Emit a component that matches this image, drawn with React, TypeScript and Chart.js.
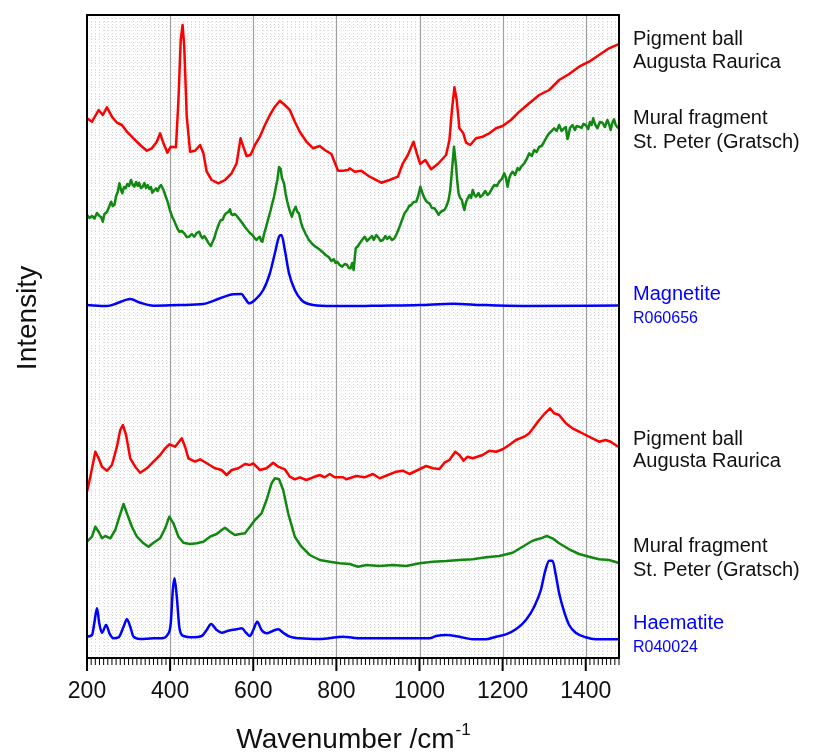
import React, { useEffect, useRef } from 'react';
import { Chart, registerables } from 'chart.js';

Chart.register(...registerables);

const FONT = '"Liberation Sans", Arial, sans-serif';

// x axis
const xMin = 200;
const xMax = 1480;
const xTickValues = [200, 400, 600, 800, 1000, 1200, 1400];
const xTitle = 'Wavenumber /cm';
const xTitleSup = '-1';
const yTitle = 'Intensity';

// Spectra: [wavenumber (cm-1), intensity (arbitrary, stacked offsets)]
const pigmentBallUpper: [number, number][] = [
  [200, 539.7], [212, 536.3], [228, 548], [238, 543], [248, 550.7], [260, 541.3], [272, 535.3], [284, 533],
  [296, 526.3], [312, 519.7], [328, 513], [344, 507.3], [356, 509.7], [368, 516.3], [376, 524.7], [384, 514.7],
  [393.5, 505.3], [401.5, 511.3], [414, 510.7], [420, 558], [425.5, 618], [430, 633], [434, 611.3], [440, 541.3],
  [448, 506.3], [460, 507.3], [472, 513], [480, 504.7], [488, 486.3], [500, 478], [516, 474.7], [532, 478],
  [548, 484.7], [560, 494.7], [569.5, 519.7], [577.5, 509.7], [584, 502], [593.5, 503], [604, 513], [616, 521.3],
  [628, 533], [640, 543], [652, 551.3], [664, 557.3], [676, 553], [688, 548], [700, 536.3], [712, 526.3],
  [728, 516.3], [744, 509.7], [760, 512], [772, 508], [788, 504], [804, 487.3], [816, 487.3], [828, 488],
  [832, 489.7], [844, 486.3], [860, 487.3], [880, 481.3], [908, 475.3], [928, 478], [948, 481.3], [960, 494.7],
  [972, 503], [985.5, 516.3], [993.5, 504.7], [1001.5, 494], [1014, 498], [1028, 488.7], [1044, 494], [1064, 503],
  [1072, 518], [1078, 548], [1084, 570.7], [1089.5, 558], [1096, 529.7], [1105.5, 524.7], [1112, 515.3], [1122, 513],
  [1136, 519.7], [1152, 521.3], [1168, 524.7], [1184, 529.7], [1200, 532], [1220, 538], [1240, 546.3], [1264, 554.7],
  [1288, 563], [1312, 568], [1336, 578], [1360, 584], [1384, 591.3], [1408, 596.3], [1432, 603], [1456, 609.7],
  [1478, 613.7],
];

const muralFragmentUpper: [number, number][] = [
  [200, 443], [206, 440], [212, 442], [218, 439.5], [224, 445], [230, 442], [234, 441], [238, 436.3],
  [242, 444], [248, 446], [254, 452], [258, 456.3], [262, 452], [266, 453], [270, 462], [274, 466],
  [278, 474.7], [282, 468], [285, 464.7], [289, 471], [293, 469.7], [297, 474], [301, 472], [306, 478],
  [310, 473], [314, 471.3], [318, 476], [322, 472], [325, 475.3], [330, 470], [334, 471.3], [338, 475],
  [342, 470], [346, 473], [350, 469], [354, 471], [357, 465.3], [362, 468], [366, 469.7], [370, 467],
  [374, 471], [378, 473], [384, 468], [389, 462], [394, 456.3], [400, 447], [405, 441.3], [410, 437],
  [414, 433], [418, 429], [422, 426.3], [428, 427], [434, 424.7], [440, 421], [446, 421.3], [452, 424],
  [458, 421.3], [464, 425], [470, 426.3], [474, 422], [478, 419.7], [482, 422], [486, 419.7], [492, 415],
  [498, 412], [502, 416], [506, 419.7], [512, 428], [518, 434.7], [522, 438], [526, 438], [530, 442],
  [534, 444.7], [540, 446], [544, 448.7], [547, 444], [550, 443], [556, 444], [562, 441.3], [568, 438],
  [574, 434.7], [580, 431], [586, 428], [592, 425], [598, 423], [603, 420], [608, 418], [612, 420],
  [616, 421.3], [619, 417], [622, 416.3], [626, 424], [630, 429.7], [636, 439], [642, 448], [646, 455],
  [650, 461.3], [654, 470], [658, 478], [662, 491], [666, 489], [669, 480], [674, 474.7], [678, 464],
  [682, 456.3], [687, 448], [693, 441.3], [697, 447], [702, 451.3], [706, 446], [710, 444.7], [714, 437],
  [718, 431.3], [726, 424], [734, 418], [742, 414], [750, 411.3], [758, 409], [766, 406.3], [774, 403],
  [782, 400.7], [788, 397], [794, 398.7], [798, 395], [802, 396.3], [808, 393], [814, 391.3], [820, 394],
  [826, 393], [830, 390], [834, 389.7], [838, 395], [841.5, 388], [846.5, 409.7], [852, 412], [856, 414.7],
  [862, 418], [868, 421.3], [874, 417], [880, 419.7], [886, 422], [890, 418], [896, 423], [902, 420],
  [906, 417], [912, 418], [918, 422], [922, 419], [928, 421.3], [934, 418], [940, 419.7], [946, 425],
  [952, 431.3], [958, 438], [964, 444.7], [970, 448], [975, 452], [980, 453], [986, 456], [992, 456.3],
  [997, 462], [1002, 471.3], [1007, 465], [1012, 459.7], [1018, 456], [1024, 454.7], [1030, 450], [1036, 449.7],
  [1042, 446], [1046, 443], [1048, 444.7], [1054, 447], [1060, 448], [1064, 451], [1070, 458], [1074, 468],
  [1077.5, 484.7], [1083, 511.3], [1088, 491.3], [1091, 476], [1094, 464.7], [1098, 460], [1102, 458], [1105, 452],
  [1108, 448], [1112, 456], [1116, 459.7], [1120, 463], [1124, 460], [1128, 468], [1132, 463], [1136, 461.3],
  [1142, 465], [1146, 461], [1152, 463], [1158, 467], [1164, 463], [1168, 464.7], [1174, 469], [1180, 473],
  [1186, 472], [1192, 476.3], [1198, 479], [1204, 484.7], [1208, 480], [1212, 471.3], [1216, 480], [1220, 484],
  [1224, 486.3], [1230, 483], [1236, 490], [1240, 488], [1246, 492], [1252, 494.7], [1258, 499], [1264, 504.7],
  [1270, 502], [1276, 508], [1282, 506], [1288, 511.3], [1294, 512], [1300, 516.3], [1306, 521], [1312, 524.7],
  [1318, 527], [1324, 529.7], [1330, 527], [1336, 533], [1342, 527], [1348, 529.7], [1352, 531], [1356, 519],
  [1358, 521.3], [1362, 530], [1368, 533], [1374, 528], [1378, 532], [1384, 531.3], [1390, 530], [1394, 534],
  [1400, 533], [1406, 529], [1410, 536], [1414, 533], [1418, 539.7], [1422, 534], [1428, 529.7], [1434, 536],
  [1440, 535.3], [1446, 531], [1452, 538], [1456, 534], [1460, 528], [1464, 535], [1468, 538.7], [1472, 533],
  [1478, 529.7],
];

const magnetiteRef: [number, number][] = [
  [200, 353], [248, 352], [272, 354.7], [304, 359], [328, 355.3], [360, 352.3], [424, 353], [480, 354],
  [520, 359.7], [552, 363.7], [572, 364], [580, 359.7], [590, 354.7], [604, 358], [624, 368], [640, 384.7],
  [652, 404.7], [662, 421.3], [668, 423], [676, 408], [686, 384.7], [700, 368], [716, 358], [744, 353],
  [792, 352], [856, 352], [900, 352.3], [1000, 353], [1080, 354.3], [1150, 353], [1250, 352], [1478, 352.5],
];

const pigmentBallLower: [number, number][] = [
  [200, 166.3], [208, 181.3], [220, 206.3], [228, 199.7], [236, 191.3], [248, 187.3], [260, 193], [272, 211.3],
  [280, 228], [286.3, 233], [294, 223], [304, 199.7], [316, 191.3], [328, 185.3], [344, 189.7], [360, 196.3],
  [376, 203], [388, 209.7], [398, 213.7], [412, 211.3], [428, 219.7], [436, 211.3], [444, 199.7], [460, 196.3],
  [472, 198.7], [488, 194.7], [508, 189.7], [524, 188], [536, 183], [548, 188], [564, 189.7], [580, 194],
  [592, 193], [600, 194.7], [616, 188], [632, 189.7], [648, 195.3], [660, 191.3], [676, 188.7], [688, 181.3],
  [700, 178.7], [712, 180.7], [728, 178], [744, 180.7], [760, 183], [772, 180.7], [784, 184], [796, 180.7],
  [816, 180.7], [824, 178.7], [848, 182], [868, 180.7], [888, 184], [904, 179.7], [924, 183], [944, 186.3],
  [960, 187.3], [976, 184], [996, 188], [1016, 192], [1032, 189.7], [1048, 189], [1060, 195.3], [1072, 198],
  [1086, 206.3], [1096, 203], [1106, 197.3], [1116, 201.3], [1128, 199.7], [1152, 203], [1168, 207.3], [1184, 206.3],
  [1200, 208.7], [1216, 213], [1232, 218], [1252, 221.3], [1264, 224.7], [1276, 231.3], [1288, 238], [1302, 244.7],
  [1314, 249.7], [1324, 244.7], [1336, 243], [1352, 234.7], [1368, 229.7], [1384, 226.3], [1400, 223], [1416, 219.7],
  [1432, 216.3], [1448, 218], [1460, 216.3], [1478, 211.3],
];

const muralFragmentLower: [number, number][] = [
  [200, 116.3], [212, 121.3], [220, 131.3], [228, 126.3], [236, 119.7], [244, 122], [256, 119.7], [268, 128],
  [278, 141.3], [288, 154], [296, 144.7], [308, 131.3], [320, 121.3], [336, 114.7], [348, 111.3], [360, 115.3],
  [376, 119.7], [388, 129.7], [398, 141.3], [408, 134.7], [420, 121.3], [432, 115.3], [448, 114], [464, 114.7],
  [480, 116.3], [496, 121.3], [512, 124], [524, 128], [532, 130.3], [544, 126.3], [556, 123], [568, 124],
  [580, 124.7], [592, 131.3], [604, 138], [620, 144.7], [632, 158], [644, 174.7], [652, 179.7], [662, 178.7],
  [672, 168], [684, 144.7], [700, 121.3], [716, 111.3], [736, 103], [760, 98], [784, 96.3], [808, 94.7],
  [832, 94], [852, 91.3], [872, 93], [904, 92], [936, 93], [968, 92], [1000, 94.7], [1032, 96.3],
  [1064, 97], [1096, 98], [1128, 98.7], [1160, 100.7], [1192, 102], [1224, 105.3], [1248, 111.3], [1272, 117.3],
  [1292, 119.7], [1306, 122], [1320, 119.7], [1336, 114.7], [1360, 108.7], [1384, 104], [1408, 101.3], [1432, 98.7],
  [1456, 98], [1478, 95.3],
];

const haematiteRef: [number, number][] = [
  [200, 21.3], [212, 23], [217.5, 34.7], [224, 49.7], [229.5, 34.7], [236, 25.3], [246, 33], [254, 24.7],
  [264, 19.7], [276, 20.7], [288, 31.3], [296, 38.7], [304, 31.3], [312, 21.3], [328, 19], [360, 19.7],
  [380, 19.7], [393.5, 23], [401.5, 34.7], [406.5, 68], [410.5, 79.7], [416, 61.3], [422.5, 29.7], [432, 22],
  [456, 20.7], [476, 22], [488, 28], [498.5, 34], [512, 28], [524, 25.3], [540, 27.3], [560, 28.7],
  [572, 29.7], [584, 24.7], [592, 22], [600, 28], [609.5, 36.3], [620, 28], [632, 24.7], [648, 27.3],
  [660, 28.7], [672, 25.3], [688, 21.3], [712, 19.7], [760, 19], [800, 20.7], [816, 21.3], [840, 20.3],
  [856, 19.7], [928, 19.7], [1000, 19.7], [1024, 19.7], [1040, 22], [1064, 23], [1096, 21.3], [1128, 18.7],
  [1160, 18.7], [1184, 21.3], [1208, 23.7], [1232, 28.7], [1256, 38], [1276, 51.3], [1292, 68], [1302, 86.3],
  [1312, 97.3], [1320, 97.3], [1328, 83], [1336, 64.7], [1348, 46.3], [1360, 33], [1376, 25.3], [1400, 20.7],
  [1424, 18.7], [1478, 18.7],
];

const seriesNames = [
  'Pigment ball Augusta Raurica (upper)',
  'Mural fragment St. Peter (Gratsch) (upper)',
  'Magnetite R060656',
  'Pigment ball Augusta Raurica (lower)',
  'Mural fragment St. Peter (Gratsch) (lower)',
  'Haematite R040024',
];
const seriesData = [pigmentBallUpper, muralFragmentUpper, magnetiteRef, pigmentBallLower, muralFragmentLower, haematiteRef];
const seriesColors = ['#ff0000', '#118811', '#0000ff', '#ff0000', '#118811', '#0000ff'];
const seriesSmooth = [false, false, true, false, false, true];

// Right-hand annotations (y given in intensity units of the chart)
const sideLabels = [
  { text: 'Pigment ball', y: 613, color: '#111111', size: 20 },
  { text: 'Augusta Raurica', y: 590, color: '#111111', size: 20 },
  { text: 'Mural fragment', y: 534, color: '#111111', size: 20 },
  { text: 'St. Peter (Gratsch)', y: 510, color: '#111111', size: 20 },
  { text: 'Magnetite', y: 358, color: '#0000ff', size: 20 },
  { text: 'R060656', y: 335, color: '#0000ff', size: 16 },
  { text: 'Pigment ball', y: 213, color: '#111111', size: 20 },
  { text: 'Augusta Raurica', y: 191, color: '#111111', size: 20 },
  { text: 'Mural fragment', y: 106, color: '#111111', size: 20 },
  { text: 'St. Peter (Gratsch)', y: 82, color: '#111111', size: 20 },
  { text: 'Haematite', y: 29, color: '#0000ff', size: 20 },
  { text: 'R040024', y: 6, color: '#0000ff', size: 16 },
];

const decorPlugin = {
  id: 'decor',
  beforeDatasetsDraw(chart: any) {
    const { ctx, chartArea: a, scales } = chart;
    const x = scales.x;
    const y = scales.y;
    ctx.save();
    // fine dotted background grid
    ctx.lineWidth = 1;
    ctx.strokeStyle = '#d6d6d6';
    ctx.setLineDash([1, 2]);
    for (let w = xMin + 10; w < xMax; w += 10) {
      const px = Math.round(x.getPixelForValue(w)) + 0.5;
      ctx.beginPath();
      ctx.moveTo(px, a.top);
      ctx.lineTo(px, a.bottom);
      ctx.stroke();
    }
    ctx.strokeStyle = '#e2e2e2';
    ctx.setLineDash([1, 3]);
    for (let v = 4; v < y.max; v += 4) {
      const py = Math.round(y.getPixelForValue(v)) + 0.5;
      ctx.beginPath();
      ctx.moveTo(a.left, py);
      ctx.lineTo(a.right, py);
      ctx.stroke();
    }
    // major grid
    ctx.setLineDash([]);
    ctx.strokeStyle = '#a0a0a0';
    ctx.lineWidth = 1.2;
    for (const w of xTickValues) {
      if (w === xMin) continue;
      const px = Math.round(x.getPixelForValue(w)) + 0.5;
      ctx.beginPath();
      ctx.moveTo(px, a.top);
      ctx.lineTo(px, a.bottom);
      ctx.stroke();
    }
    ctx.restore();
  },
  afterDraw(chart: any) {
    const { ctx, chartArea: a, scales } = chart;
    const x = scales.x;
    const y = scales.y;
    ctx.save();
    // frame
    ctx.strokeStyle = '#000000';
    ctx.lineWidth = 2;
    ctx.strokeRect(a.left, a.top, a.right - a.left, a.bottom - a.top);
    // tick marks
    for (let w = xMin; w <= xMax; w += 10) {
      const px = x.getPixelForValue(w);
      const major = w % 200 === 0;
      ctx.lineWidth = major ? 2 : 1;
      ctx.beginPath();
      ctx.moveTo(px, a.bottom);
      ctx.lineTo(px, a.bottom + (major ? 13 : 7));
      ctx.stroke();
    }
    // x title with superscript
    ctx.fillStyle = '#111111';
    ctx.textBaseline = 'alphabetic';
    ctx.textAlign = 'left';
    ctx.font = `28px ${FONT}`;
    const mainW = ctx.measureText(xTitle).width;
    ctx.font = `17px ${FONT}`;
    const supW = ctx.measureText(xTitleSup).width;
    const cx = (a.left + a.right) / 2;
    const startX = cx - (mainW + supW) / 2;
    ctx.font = `28px ${FONT}`;
    ctx.fillText(xTitle, startX, 748);
    ctx.font = `17px ${FONT}`;
    ctx.fillText(xTitleSup, startX + mainW + 1, 735);
    // y title
    ctx.save();
    ctx.translate(36, 318);
    ctx.rotate(-Math.PI / 2);
    ctx.textAlign = 'center';
    ctx.font = `28px ${FONT}`;
    ctx.fillText(yTitle, 0, 0);
    ctx.restore();
    // side labels
    ctx.textAlign = 'left';
    for (const l of sideLabels) {
      ctx.fillStyle = l.color;
      ctx.font = `${l.size}px ${FONT}`;
      ctx.fillText(l.text, a.right + 14, y.getPixelForValue(l.y));
    }
    ctx.restore();
  },
};

export default function App() {
  const ref = useRef<HTMLCanvasElement>(null);
  useEffect(() => {
    if (!ref.current) return;
    const chart = new Chart(ref.current, {
      type: 'line',
      data: {
        datasets: seriesData.map((s, i) => ({
          label: seriesNames[i],
          data: s.map(([w, v]) => ({ x: w, y: v })),
          borderColor: seriesColors[i],
          backgroundColor: seriesColors[i],
          borderWidth: 2.5,
          pointRadius: 0,
          fill: false,
          borderJoinStyle: 'round' as const,
          cubicInterpolationMode: seriesSmooth[i] ? ('monotone' as const) : ('default' as const),
          tension: seriesSmooth[i] ? 0.4 : 0,
        })),
      },
      options: {
        responsive: false,
        animation: false,
        devicePixelRatio: 1,
        layout: { padding: { left: 87, right: 198, top: 15, bottom: 0 } },
        plugins: { legend: { display: false }, tooltip: { enabled: false } },
        scales: {
          x: {
            type: 'linear',
            min: xMin,
            max: xMax,
            afterBuildTicks: (s: any) => {
              s.ticks = xTickValues.map((v) => ({ value: v }));
            },
            afterFit: (s: any) => {
              s.height = 97;
            },
            grid: { display: true, drawOnChartArea: false, drawTicks: true, tickLength: 13, color: 'rgba(0,0,0,0)' },
            border: { display: false },
            ticks: {
              font: { size: 23, family: FONT },
              color: '#111111',
              padding: 7,
              maxRotation: 0,
              autoSkip: false,
              callback: (v: any) => String(v),
            },
          },
          y: { display: false, min: 0, max: 643 },
        },
      },
      plugins: [decorPlugin],
    });
    return () => chart.destroy();
  }, []);
  return (
    <div style={{ position: 'absolute', left: 0, top: 0, width: 817, height: 755, background: '#ffffff' }}>
      <canvas ref={ref} width={817} height={755} style={{ display: 'block', width: 817, height: 755 }} />
    </div>
  );
}
